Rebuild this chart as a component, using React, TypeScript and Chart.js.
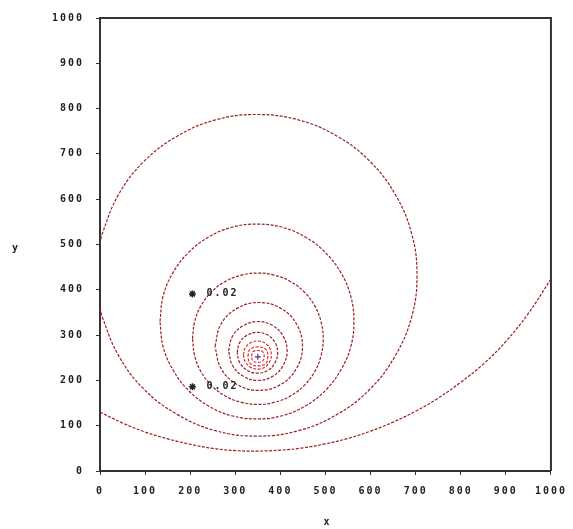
import React, { useEffect, useRef } from 'react';
import { Chart, registerables } from 'chart.js';

Chart.register(...registerables);

// Axis ticks and titles
const xTicks = [0, 100, 200, 300, 400, 500, 600, 700, 800, 900, 1000];
const yTicks = [0, 100, 200, 300, 400, 500, 600, 700, 800, 900, 1000];
const axisTitleX = 'x';
const axisTitleY = 'y';

// Contour lines (x, y)
const contourA: [number, number][] = [
  [0, 130], [50, 106], [100, 86], [150, 71], [200, 59], [250, 50], [300, 45], [350, 44],
  [400, 46], [450, 51], [500, 60], [550, 72], [600, 88], [650, 108], [700, 132],
  [750, 161], [800, 196], [850, 236], [900, 286], [950, 348], [1000, 424],
];
const contourB: [number, number][] = [
  [0, 502], [5, 524], [41, 610], [97, 683], [171, 739], [256, 775], [348, 787],
  [440, 775], [526, 739], [599, 683], [655, 610], [691, 524], [703, 432], [691, 340],
  [655, 255], [599, 181], [526, 125], [440, 89], [348, 77], [256, 89], [171, 125],
  [97, 181], [41, 255], [5, 340], [0, 362],
];
const contourC: [number, number][] = [
  [133, 330], [140, 386], [162, 438], [196, 482], [240, 516], [292, 538], [348, 545],
  [404, 538], [456, 516], [500, 482], [534, 438], [556, 386], [563, 330], [556, 274],
  [534, 223], [500, 178], [456, 144], [404, 122], [348, 115], [292, 122], [240, 144],
  [196, 178], [162, 223], [140, 274], [133, 330],
];
const contourD: [number, number][] = [
  [205, 292], [210, 330], [224, 365], [247, 395], [277, 418], [312, 432], [350, 437],
  [388, 432], [423, 418], [453, 395], [476, 365], [490, 330], [495, 292], [490, 254],
  [476, 219], [453, 189], [423, 166], [388, 152], [350, 147], [312, 152], [277, 166],
  [247, 189], [224, 219], [210, 254], [205, 292],
];
const contourE: [number, number][] = [
  [255, 275], [268, 324], [304, 359], [352, 372], [401, 359], [436, 324], [449, 275],
  [436, 227], [401, 191], [352, 178], [304, 191], [268, 227], [255, 275],
];
const contourF: [number, number][] = [
  [285, 265], [294, 298], [318, 321], [350, 330], [383, 321], [406, 298], [415, 265],
  [406, 233], [383, 209], [350, 200], [318, 209], [294, 233], [285, 265],
];
const contourG: [number, number][] = [
  [304, 261], [310, 284], [327, 300], [349, 306], [372, 300], [388, 284], [394, 261],
  [388, 239], [372, 222], [349, 216], [327, 222], [310, 239], [304, 261],
];
const contourH: [number, number][] = [
  [318, 256], [322, 272], [334, 283], [349, 287], [365, 283], [376, 272], [380, 256],
  [376, 241], [365, 229], [349, 225], [334, 229], [322, 241], [318, 256],
];
const contourI: [number, number][] = [
  [328, 253], [332, 268], [350, 274], [368, 268], [372, 253], [368, 238], [350, 232],
  [332, 238], [328, 253],
];
const contourJ: [number, number][] = [
  [336, 253], [339, 263], [350, 266], [361, 263], [364, 253], [361, 243], [350, 240],
  [339, 243], [336, 253],
];

const darkContours = [contourA, contourB, contourC, contourD, contourE, contourF, contourG];
const redContours = [contourH, contourI, contourJ];

const centerPoint: [number, number][] = [[350, 252]];
const labelPoints: [number, number][] = [[205, 391], [205, 186]];
const labelTexts = ['0.02', '0.02'];

const FONT = '"DejaVu Sans Mono", monospace';

const toXY = (arr: [number, number][]) => arr.map(([x, y]) => ({ x, y }));

const framePlugin = {
  id: 'frameAndText',
  beforeDraw(chart: any) {
    (chart.ctx as any).letterSpacing = '2px';
  },
  afterDraw(chart: any) {
    const { ctx, chartArea: a, scales } = chart;
    ctx.save();
    ctx.strokeStyle = '#333';
    ctx.lineWidth = 2;
    ctx.setLineDash([]);
    ctx.beginPath();
    ctx.moveTo(a.left, a.top);
    ctx.lineTo(a.right, a.top);
    ctx.lineTo(a.right, a.bottom);
    ctx.stroke();
    ctx.font = 'bold 10px ' + FONT;
    ctx.fillStyle = '#222';
    ctx.textBaseline = 'middle';
    ctx.textAlign = 'left';
    labelPoints.forEach(([x, y], i) => {
      ctx.fillText(labelTexts[i], scales.x.getPixelForValue(x) + 14, scales.y.getPixelForValue(y));
    });
    ctx.textAlign = 'center';
    ctx.fillText(axisTitleX, (a.left + a.right) / 2 + 2, chart.height - 7);
    ctx.fillText(axisTitleY, 16, (a.top + a.bottom) / 2 + 4);
    ctx.restore();
  },
};

export default function App() {
  const ref = useRef<HTMLCanvasElement | null>(null);
  useEffect(() => {
    if (!ref.current) return;
    const lineDs = (arr: [number, number][], color: string) => ({
      data: toXY(arr),
      showLine: true,
      borderColor: color,
      borderWidth: 1.2,
      borderDash: [3, 1.5],
      pointRadius: 0,
      tension: 0.4,
      fill: false,
    });
    const chart = new Chart(ref.current, {
      type: 'scatter',
      data: {
        datasets: [
          ...darkContours.map((c) => lineDs(c, '#9a2020')),
          ...redContours.map((c) => lineDs(c, '#e03030')),
          {
            data: toXY(centerPoint),
            pointStyle: 'cross',
            pointRadius: 3,
            borderColor: '#3a3a9a',
            borderWidth: 1.2,
            showLine: false,
          } as any,
          {
            data: toXY(labelPoints),
            pointStyle: 'star',
            pointRadius: 3.5,
            borderColor: '#222',
            borderWidth: 1.5,
            showLine: false,
          } as any,
        ],
      },
      options: {
        animation: false,
        responsive: false,
        devicePixelRatio: 1,
        layout: { padding: { left: 0, right: 21, top: 18, bottom: 0 } },
        plugins: { legend: { display: false }, tooltip: { enabled: false } },
        events: [],
        scales: {
          x: {
            type: 'linear',
            min: 0,
            max: 1000,
            afterBuildTicks: (s: any) => { s.ticks = xTicks.map((v) => ({ value: v })); },
            afterFit: (s: any) => { s.height = 58; },
            grid: { drawOnChartArea: false, drawTicks: true, tickLength: 4, color: '#333', lineWidth: 1 },
            border: { display: true, color: '#333', width: 2 },
            ticks: {
              autoSkip: false,
              maxRotation: 0,
              padding: 10,
              color: '#222',
              font: { family: FONT, size: 10, weight: 'bold' },
              callback: (v: any) => String(v),
            },
          },
          y: {
            type: 'linear',
            min: 0,
            max: 1000,
            afterBuildTicks: (s: any) => { s.ticks = yTicks.map((v) => ({ value: v })); },
            afterFit: (s: any) => { s.width = 100; },
            grid: { drawOnChartArea: false, drawTicks: true, tickLength: 4, color: '#333', lineWidth: 1 },
            border: { display: true, color: '#333', width: 2 },
            ticks: {
              autoSkip: false,
              padding: 12,
              color: '#222',
              font: { family: FONT, size: 10, weight: 'bold' },
              callback: (v: any) => String(v),
            },
          },
        },
      } as any,
      plugins: [framePlugin],
    });
    return () => chart.destroy();
  }, []);
  return (
    <div style={{ position: 'fixed', left: 0, top: 0, width: 573, height: 529, background: '#fff' }}>
      <canvas ref={ref} width={573} height={529} style={{ display: 'block' }} />
    </div>
  );
}
